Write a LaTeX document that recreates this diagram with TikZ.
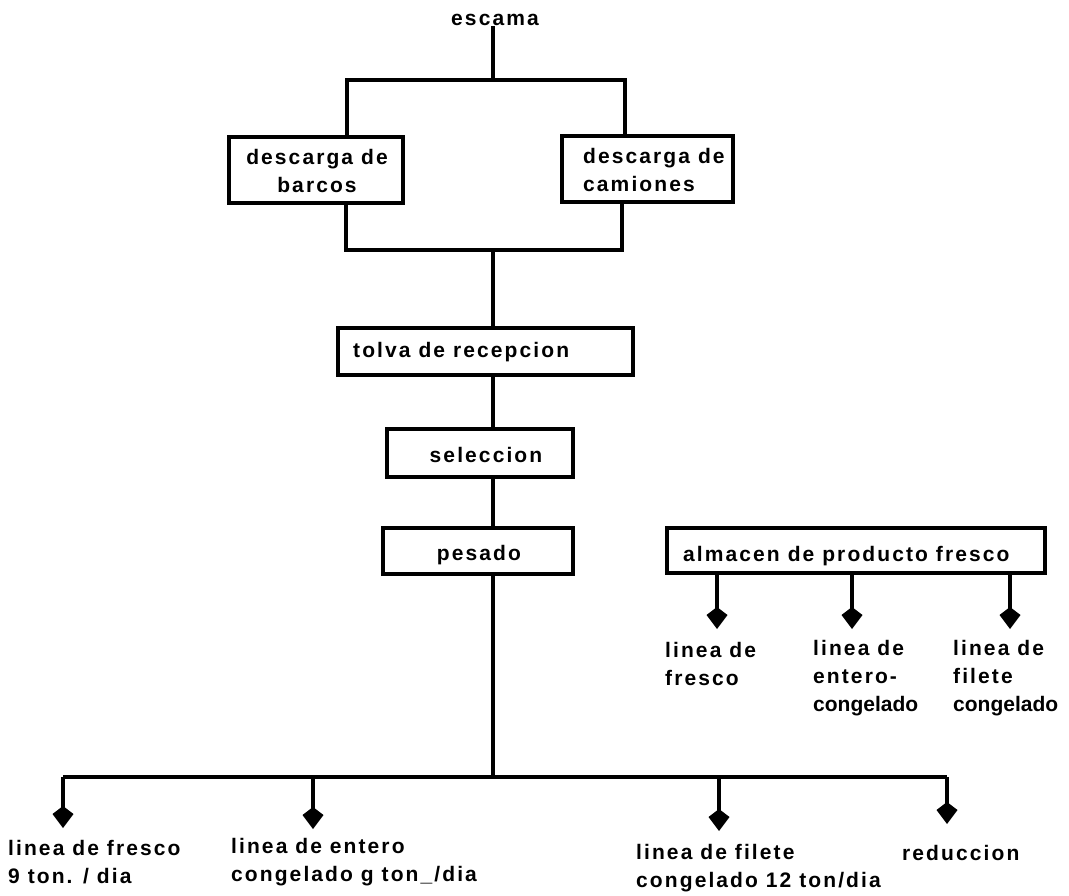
\documentclass[tikz,border=0pt]{standalone}
\usepackage{fontspec}
\setmainfont{Liberation Sans}[LetterSpace=10]
\newcommand{\tightword}[1]{{\addfontfeature{LetterSpace=0}#1}}
\usetikzlibrary{arrows.meta}
\begin{document}
\begin{tikzpicture}[x=1pt,y=-1pt,
  ln/.style={line width=3.5pt},
  arr/.style={line width=3.5pt,-{Kite[length=22pt,width=21pt,inset=8pt]}},
  box/.style={draw,line width=3.5pt,inner sep=0pt},
  txt/.style={inner sep=0pt,font=\bfseries\fontsize{21}{28}\selectfont},
]
\useasboundingbox (0,0) rectangle (1069,896);
% boxes
\node[box,minimum width=174pt,minimum height=66pt] (barcos) at (316,170) {};
\node[box,minimum width=171pt,minimum height=66pt] (camiones) at (647.5,169) {};
\node[box,minimum width=295pt,minimum height=47pt] (tolva) at (485.5,351.5) {};
\node[box,minimum width=186pt,minimum height=48pt] (sel) at (480,453) {};
\node[box,minimum width=190pt,minimum height=46pt] (pes) at (478,551) {};
\node[box,minimum width=378pt,minimum height=45pt] (alm) at (856,550.5) {};
% texts in boxes
\node[txt] (escama) at (495,20) {escama};
\node[txt,align=center] (barcosT) at (317,171) {descarga de\\barcos};
\node[txt,align=left,anchor=west] (camionesT) at (583,170) {descarga de\\camiones};
\node[txt,anchor=west] (tolvaT) at (353,352) {tolva de recepcion};
\node[txt] (selT) at (486,455) {seleccion};
\node[txt] (pesT) at (479,555) {pesado};
\node[txt,anchor=west] (almT) at (683,556) {almacen de producto fresco};
% coordinates
\coordinate (tc) at (493,80);
\coordinate (tl) at (347,80);
\coordinate (tr) at (625,80);
\coordinate (bc) at (493,250);
\coordinate (bl) at (346,250);
\coordinate (br) at (622,250);
\coordinate (bus) at (493,777);
\coordinate (busl) at (63,777);
\coordinate (busr) at (947,777);
\coordinate (d1) at (63,828);
\coordinate (d2) at (313,829);
\coordinate (d3) at (719,831);
\coordinate (d4) at (947,824);
\coordinate (r1) at (717,629);
\coordinate (r2) at (852,629);
\coordinate (r3) at (1010,629);
% connectors
\draw[ln] (escama.south -| tc) -- (tc);
\draw[ln] (barcos.north -| tl) -- (tl) -- (tr) -- (camiones.north -| tr);
\draw[ln] (barcos.south -| bl) -- (bl) -- (br) -- (camiones.south -| br);
\draw[ln] (bc) -- (tolva.north -| bc);
\draw[ln] (tolva.south -| bc) -- (sel.north -| bc);
\draw[ln] (sel.south -| bc) -- (pes.north -| bc);
\draw[ln] (pes.south -| bc) -- (bus);
\draw[ln] (busl) -- (busr);
\draw[arr] (busl) -- (d1);
\draw[arr] (busl -| d2) -- (d2);
\draw[arr] (busl -| d3) -- (d3);
\draw[arr] (busr) -- (d4);
\draw[arr] (alm.south -| r1) -- (r1);
\draw[arr] (alm.south -| r2) -- (r2);
\draw[arr] (alm.south -| r3) -- (r3);
% bottom labels
\node[txt,align=left,anchor=west] (l1) at (8,862) {linea de fresco\\9 ton. / dia};
\node[txt,align=left,anchor=west] (l2) at (231,862) {linea de entero\\congelado g ton\_/dia};
\node[txt,align=left,anchor=west] (l3) at (636,868) {linea de filete\\congelado 12 ton/dia};
\node[txt,anchor=west] (l4) at (902,853) {reduccion};
% right labels
\node[txt,align=left,anchor=west] (f1) at (665,664) {linea de\\fresco};
\node[txt,align=left,anchor=west] (f2) at (813,678) {linea de\\entero-\\\tightword{congelado}};
\node[txt,align=left,anchor=west] (f3) at (953,678) {linea de\\filete\\\tightword{congelado}};
\end{tikzpicture}
\end{document}
